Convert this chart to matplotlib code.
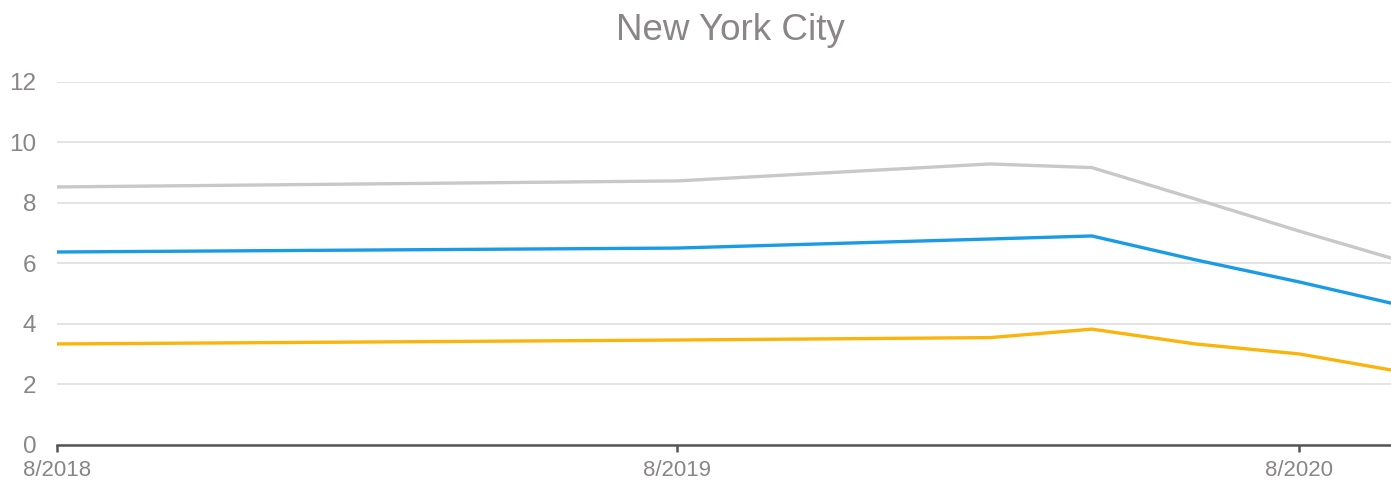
import numpy as np
import pandas as pd
import matplotlib
matplotlib.use("Agg")
import matplotlib.pyplot as plt
import matplotlib.dates as mdates

plt.rcParams['font.family'] = ['Liberation Sans', 'DejaVu Sans']

# data
dates = pd.to_datetime(["2018-08-01", "2019-08-01", "2020-02-01", "2020-04-01",
                        "2020-06-01", "2020-08-01", "2020-09-24"])
gray_vals = [8.53, 8.73, 9.29, 9.17, 8.13, 7.07, 6.18]
blue_vals = [6.38, 6.51, 6.81, 6.91, 6.12, 5.39, 4.69]
orange_vals = [3.34, 3.47, 3.55, 3.83, 3.34, 3.01, 2.48]
yticks = [0, 2, 4, 6, 8, 10, 12]
xtick_dates = pd.to_datetime(["2018-08-01", "2019-08-01", "2020-08-01"])
xtick_labels = ["8/2018", "8/2019", "8/2020"]

text_col = "#8a8587"

fig = plt.figure(figsize=(13.91, 4.84), dpi=100)
ax = fig.add_axes([0.041, 0.0806, 0.959, 0.75])

ax.plot(dates, gray_vals, color="#c8c8c8", lw=2.4, solid_joinstyle="round")
ax.plot(dates, blue_vals, color="#1a9be6", lw=2.4, solid_joinstyle="round")
ax.plot(dates, orange_vals, color="#fbb40b", lw=2.4, solid_joinstyle="round")

ax.set_xlim(pd.Timestamp("2018-08-01"), pd.Timestamp("2020-09-24"))
ax.set_ylim(0, 12)
ax.set_yticks(yticks)
ax.set_yticklabels([str(v) for v in yticks])
ax.set_xticks(xtick_dates)
ax.set_xticklabels(xtick_labels)

ax.grid(axis="y", color="#e2e2e2", lw=1.3)
ax.set_axisbelow(True)
for s in ["top", "right", "left"]:
    ax.spines[s].set_visible(False)
ax.spines["bottom"].set_color("#555555")
ax.spines["bottom"].set_linewidth(1.8)
ax.spines["bottom"].set_zorder(5)

ax.tick_params(axis="y", length=0, pad=15, labelsize=17.5, labelcolor=text_col)
ax.tick_params(axis="x", length=5, width=1.8, color="#555555", pad=6,
               labelsize=16, labelcolor=text_col)

fig.text(0.525, 0.938, "New York City", ha="center", va="center",
         fontsize=26.5, color=text_col)

fig.savefig("out.png", dpi=100)
